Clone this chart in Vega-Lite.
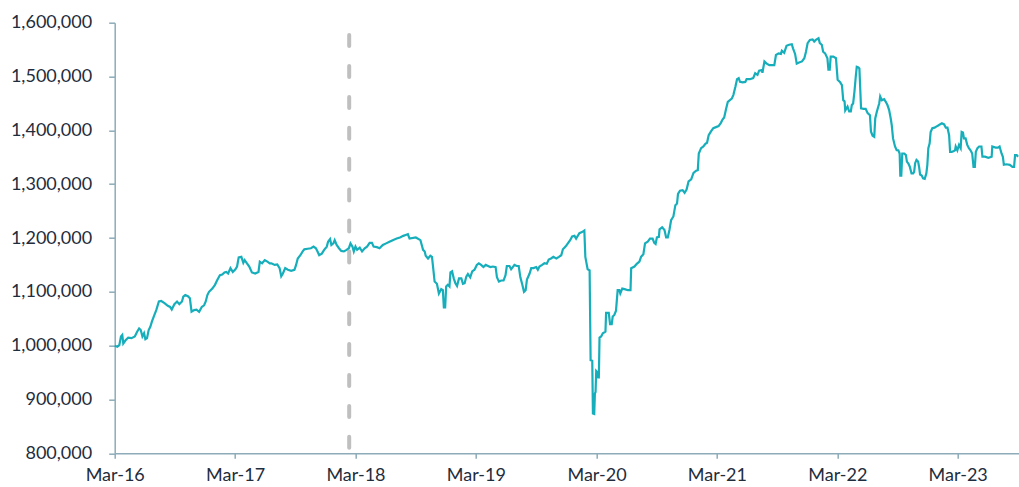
{
  "$schema": "https://vega.github.io/schema/vega-lite/v6.json",
  "width": 904,
  "height": 430.6,
  "autosize": {"type": "none"},
  "padding": {"left": 114.7, "top": 22.7, "right": 0.3, "bottom": 33.7},
  "background": "white",
  "config": {
    "view": {"stroke": null},
    "axis": {
      "labelFont": "Lato",
      "labelFontSize": 18,
      "labelColor": "#1f2d3d",
      "domainColor": "#8eabb9",
      "tickColor": "#8eabb9",
      "domainWidth": 1.5,
      "tickWidth": 1.5,
      "grid": false,
      "title": null
    }
  },
  "datasets": {
    "marker": [{"date": "2018-02-10", "lo": 800000, "hi": 1577000}],
    "series": [
      {"date":"2016-03-01","value":1000000},{"date":"2016-03-09","value":998000},{"date":"2016-03-15","value":1001000},{"date":"2016-03-20","value":1017000},{"date":"2016-03-24","value":1020000},{"date":"2016-03-27","value":1004000},{"date":"2016-04-03","value":1010000},{"date":"2016-04-11","value":1015000},{"date":"2016-04-21","value":1014000},{"date":"2016-05-01","value":1017000},{"date":"2016-05-08","value":1026000},{"date":"2016-05-14","value":1032000},{"date":"2016-05-19","value":1029000},{"date":"2016-05-24","value":1017000},{"date":"2016-05-29","value":1023000},{"date":"2016-06-02","value":1012000},{"date":"2016-06-07","value":1014000},{"date":"2016-06-12","value":1029000},{"date":"2016-06-17","value":1035000},{"date":"2016-06-22","value":1045000},{"date":"2016-06-28","value":1055000},{"date":"2016-07-05","value":1066000},{"date":"2016-07-13","value":1082000},{"date":"2016-07-20","value":1083000},{"date":"2016-07-30","value":1079000},{"date":"2016-08-09","value":1074000},{"date":"2016-08-16","value":1072000},{"date":"2016-08-21","value":1067000},{"date":"2016-08-29","value":1077000},{"date":"2016-09-06","value":1082000},{"date":"2016-09-13","value":1077000},{"date":"2016-09-21","value":1082000},{"date":"2016-09-25","value":1091000},{"date":"2016-10-01","value":1094000},{"date":"2016-10-09","value":1092000},{"date":"2016-10-15","value":1088000},{"date":"2016-10-20","value":1063000},{"date":"2016-10-28","value":1066000},{"date":"2016-11-04","value":1067000},{"date":"2016-11-12","value":1063000},{"date":"2016-11-20","value":1072000},{"date":"2016-11-27","value":1075000},{"date":"2016-12-02","value":1082000},{"date":"2016-12-07","value":1094000},{"date":"2016-12-12","value":1100000},{"date":"2016-12-22","value":1106000},{"date":"2016-12-30","value":1113000},
      {"date":"2017-01-06","value":1122000},{"date":"2017-01-14","value":1131000},{"date":"2017-01-21","value":1132000},{"date":"2017-01-28","value":1136000},{"date":"2017-02-02","value":1137000},{"date":"2017-02-08","value":1134000},{"date":"2017-02-15","value":1144000},{"date":"2017-02-22","value":1137000},{"date":"2017-03-02","value":1142000},{"date":"2017-03-07","value":1147000},{"date":"2017-03-12","value":1164000},{"date":"2017-03-20","value":1165000},{"date":"2017-03-26","value":1154000},{"date":"2017-03-30","value":1159000},{"date":"2017-04-06","value":1153000},{"date":"2017-04-13","value":1147000},{"date":"2017-04-21","value":1136000},{"date":"2017-05-01","value":1134000},{"date":"2017-05-11","value":1137000},{"date":"2017-05-15","value":1156000},{"date":"2017-05-22","value":1153000},{"date":"2017-05-30","value":1159000},{"date":"2017-06-07","value":1156000},{"date":"2017-06-14","value":1153000},{"date":"2017-06-19","value":1153000},{"date":"2017-06-29","value":1150000},{"date":"2017-07-07","value":1151000},{"date":"2017-07-14","value":1144000},{"date":"2017-07-19","value":1129000},{"date":"2017-07-24","value":1134000},{"date":"2017-07-31","value":1144000},{"date":"2017-08-08","value":1141000},{"date":"2017-08-18","value":1139000},{"date":"2017-08-28","value":1141000},{"date":"2017-09-02","value":1150000},{"date":"2017-09-07","value":1162000},{"date":"2017-09-15","value":1168000},{"date":"2017-09-22","value":1175000},{"date":"2017-09-27","value":1179000},{"date":"2017-10-07","value":1180000},{"date":"2017-10-17","value":1181000},{"date":"2017-10-25","value":1184000},{"date":"2017-11-01","value":1181000},{"date":"2017-11-06","value":1175000},{"date":"2017-11-11","value":1168000},{"date":"2017-11-19","value":1171000},{"date":"2017-11-26","value":1178000},{"date":"2017-12-04","value":1184000},{"date":"2017-12-08","value":1193000},{"date":"2017-12-14","value":1198000},{"date":"2017-12-18","value":1187000},{"date":"2017-12-24","value":1190000},{"date":"2017-12-28","value":1196000},
      {"date":"2018-01-03","value":1187000},{"date":"2018-01-10","value":1181000},{"date":"2018-01-17","value":1176000},{"date":"2018-01-25","value":1175000},{"date":"2018-02-02","value":1178000},{"date":"2018-02-09","value":1181000},{"date":"2018-02-14","value":1190000},{"date":"2018-02-20","value":1184000},{"date":"2018-02-24","value":1175000},{"date":"2018-03-01","value":1184000},{"date":"2018-03-06","value":1178000},{"date":"2018-03-14","value":1182000},{"date":"2018-03-21","value":1175000},{"date":"2018-03-29","value":1181000},{"date":"2018-04-05","value":1184000},{"date":"2018-04-13","value":1191000},{"date":"2018-04-20","value":1191000},{"date":"2018-04-25","value":1184000},{"date":"2018-05-05","value":1183000},{"date":"2018-05-13","value":1181000},{"date":"2018-05-23","value":1187000},{"date":"2018-06-02","value":1190000},{"date":"2018-06-12","value":1193000},{"date":"2018-06-22","value":1196000},{"date":"2018-07-04","value":1199000},{"date":"2018-07-14","value":1201000},{"date":"2018-07-24","value":1204000},{"date":"2018-08-02","value":1206000},{"date":"2018-08-07","value":1207000},{"date":"2018-08-12","value":1199000},{"date":"2018-08-31","value":1201000},{"date":"2018-09-14","value":1196000},{"date":"2018-09-18","value":1187000},{"date":"2018-09-22","value":1178000},{"date":"2018-09-27","value":1175000},{"date":"2018-09-30","value":1167000},{"date":"2018-10-07","value":1162000},{"date":"2018-10-14","value":1167000},{"date":"2018-10-19","value":1165000},{"date":"2018-10-22","value":1148000},{"date":"2018-10-27","value":1119000},{"date":"2018-11-03","value":1115000},{"date":"2018-11-09","value":1097000},{"date":"2018-11-16","value":1105000},{"date":"2018-11-21","value":1103000},{"date":"2018-11-24","value":1071000},{"date":"2018-11-28","value":1071000},{"date":"2018-12-01","value":1110000},{"date":"2018-12-06","value":1113000},{"date":"2018-12-11","value":1110000},{"date":"2018-12-14","value":1136000},{"date":"2018-12-19","value":1138000},{"date":"2018-12-24","value":1125000},{"date":"2018-12-29","value":1116000},
      {"date":"2019-01-03","value":1111000},{"date":"2019-01-09","value":1125000},{"date":"2019-01-16","value":1125000},{"date":"2019-01-21","value":1115000},{"date":"2019-01-26","value":1116000},{"date":"2019-01-31","value":1128000},{"date":"2019-02-05","value":1133000},{"date":"2019-02-12","value":1127000},{"date":"2019-02-18","value":1138000},{"date":"2019-02-25","value":1141000},{"date":"2019-03-04","value":1150000},{"date":"2019-03-10","value":1153000},{"date":"2019-03-17","value":1150000},{"date":"2019-03-24","value":1146000},{"date":"2019-03-31","value":1150000},{"date":"2019-04-07","value":1148000},{"date":"2019-04-14","value":1146000},{"date":"2019-04-22","value":1147000},{"date":"2019-04-30","value":1146000},{"date":"2019-05-04","value":1127000},{"date":"2019-05-10","value":1119000},{"date":"2019-05-17","value":1121000},{"date":"2019-05-24","value":1121000},{"date":"2019-05-30","value":1131000},{"date":"2019-06-03","value":1148000},{"date":"2019-06-11","value":1148000},{"date":"2019-06-16","value":1142000},{"date":"2019-06-21","value":1146000},{"date":"2019-06-26","value":1150000},{"date":"2019-07-03","value":1148000},{"date":"2019-07-09","value":1148000},{"date":"2019-07-14","value":1127000},{"date":"2019-07-20","value":1113000},{"date":"2019-07-25","value":1100000},{"date":"2019-07-30","value":1103000},{"date":"2019-08-03","value":1123000},{"date":"2019-08-11","value":1134000},{"date":"2019-08-16","value":1144000},{"date":"2019-08-23","value":1144000},{"date":"2019-08-31","value":1146000},{"date":"2019-09-05","value":1141000},{"date":"2019-09-10","value":1147000},{"date":"2019-09-18","value":1150000},{"date":"2019-09-25","value":1153000},{"date":"2019-10-02","value":1152000},{"date":"2019-10-08","value":1160000},{"date":"2019-10-15","value":1162000},{"date":"2019-10-22","value":1165000},{"date":"2019-10-31","value":1162000},{"date":"2019-11-08","value":1165000},{"date":"2019-11-15","value":1168000},{"date":"2019-11-20","value":1179000},{"date":"2019-11-28","value":1184000},{"date":"2019-12-05","value":1190000},{"date":"2019-12-12","value":1196000},{"date":"2019-12-18","value":1203000},{"date":"2019-12-25","value":1204000},{"date":"2019-12-30","value":1199000},
      {"date":"2020-01-04","value":1204000},{"date":"2020-01-09","value":1209000},{"date":"2020-01-17","value":1211000},{"date":"2020-01-24","value":1214000},{"date":"2020-01-27","value":1165000},{"date":"2020-02-03","value":1142000},{"date":"2020-02-09","value":1140000},{"date":"2020-02-12","value":973000},{"date":"2020-02-17","value":972000},{"date":"2020-02-19","value":874000},{"date":"2020-02-23","value":873000},{"date":"2020-02-25","value":911000},{"date":"2020-02-27","value":914000},{"date":"2020-02-29","value":953000},{"date":"2020-03-03","value":951000},{"date":"2020-03-06","value":941000},{"date":"2020-03-08","value":941000},{"date":"2020-03-10","value":1015000},{"date":"2020-03-15","value":1017000},{"date":"2020-03-20","value":1023000},{"date":"2020-03-28","value":1026000},{"date":"2020-03-30","value":1061000},{"date":"2020-04-07","value":1061000},{"date":"2020-04-11","value":1040000},{"date":"2020-04-16","value":1040000},{"date":"2020-04-19","value":1054000},{"date":"2020-04-24","value":1057000},{"date":"2020-04-29","value":1065000},{"date":"2020-05-04","value":1103000},{"date":"2020-05-09","value":1103000},{"date":"2020-05-12","value":1097000},{"date":"2020-05-18","value":1106000},{"date":"2020-05-25","value":1105000},{"date":"2020-06-04","value":1103000},{"date":"2020-06-12","value":1103000},{"date":"2020-06-14","value":1144000},{"date":"2020-06-24","value":1147000},{"date":"2020-07-01","value":1152000},{"date":"2020-07-09","value":1156000},{"date":"2020-07-14","value":1165000},{"date":"2020-07-21","value":1170000},{"date":"2020-07-26","value":1190000},{"date":"2020-08-03","value":1193000},{"date":"2020-08-10","value":1199000},{"date":"2020-08-18","value":1199000},{"date":"2020-08-23","value":1191000},{"date":"2020-08-27","value":1189000},{"date":"2020-08-31","value":1201000},{"date":"2020-09-06","value":1202000},{"date":"2020-09-08","value":1216000},{"date":"2020-09-16","value":1220000},{"date":"2020-09-23","value":1215000},{"date":"2020-09-28","value":1201000},{"date":"2020-10-03","value":1201000},{"date":"2020-10-08","value":1215000},{"date":"2020-10-13","value":1233000},{"date":"2020-10-20","value":1240000},{"date":"2020-10-26","value":1261000},{"date":"2020-10-31","value":1264000},{"date":"2020-11-03","value":1282000},{"date":"2020-11-09","value":1288000},{"date":"2020-11-17","value":1289000},{"date":"2020-11-23","value":1284000},{"date":"2020-11-29","value":1290000},{"date":"2020-12-05","value":1305000},{"date":"2020-12-13","value":1309000},{"date":"2020-12-20","value":1321000},{"date":"2020-12-28","value":1325000},
      {"date":"2021-01-02","value":1326000},{"date":"2021-01-05","value":1357000},{"date":"2021-01-12","value":1367000},{"date":"2021-01-19","value":1370000},{"date":"2021-01-25","value":1375000},{"date":"2021-01-30","value":1377000},{"date":"2021-02-04","value":1391000},{"date":"2021-02-11","value":1398000},{"date":"2021-02-18","value":1404000},{"date":"2021-02-26","value":1406000},{"date":"2021-03-06","value":1408000},{"date":"2021-03-13","value":1414000},{"date":"2021-03-18","value":1420000},{"date":"2021-03-23","value":1424000},{"date":"2021-03-28","value":1438000},{"date":"2021-04-03","value":1453000},{"date":"2021-04-15","value":1459000},{"date":"2021-04-20","value":1466000},{"date":"2021-04-26","value":1481000},{"date":"2021-05-01","value":1495000},{"date":"2021-05-06","value":1497000},{"date":"2021-05-10","value":1490000},{"date":"2021-05-18","value":1489000},{"date":"2021-05-26","value":1490000},{"date":"2021-05-30","value":1495000},{"date":"2021-06-09","value":1495000},{"date":"2021-06-19","value":1497000},{"date":"2021-06-25","value":1506000},{"date":"2021-07-02","value":1503000},{"date":"2021-07-07","value":1511000},{"date":"2021-07-15","value":1512000},{"date":"2021-07-17","value":1507000},{"date":"2021-07-23","value":1528000},{"date":"2021-07-30","value":1524000},{"date":"2021-08-07","value":1521000},{"date":"2021-08-22","value":1521000},{"date":"2021-08-27","value":1540000},{"date":"2021-09-04","value":1543000},{"date":"2021-09-11","value":1542000},{"date":"2021-09-14","value":1548000},{"date":"2021-09-21","value":1544000},{"date":"2021-09-28","value":1557000},{"date":"2021-10-06","value":1559000},{"date":"2021-10-14","value":1560000},{"date":"2021-10-18","value":1552000},{"date":"2021-10-24","value":1542000},{"date":"2021-10-29","value":1524000},{"date":"2021-11-05","value":1526000},{"date":"2021-11-14","value":1528000},{"date":"2021-11-21","value":1534000},{"date":"2021-11-26","value":1546000},{"date":"2021-12-01","value":1562000},{"date":"2021-12-08","value":1568000},{"date":"2021-12-16","value":1569000},{"date":"2021-12-21","value":1565000},{"date":"2021-12-26","value":1568000},
      {"date":"2022-01-03","value":1571000},{"date":"2022-01-07","value":1562000},{"date":"2022-01-13","value":1559000},{"date":"2022-01-17","value":1546000},{"date":"2022-01-23","value":1543000},{"date":"2022-01-30","value":1534000},{"date":"2022-02-02","value":1513000},{"date":"2022-02-06","value":1513000},{"date":"2022-02-09","value":1537000},{"date":"2022-02-17","value":1537000},{"date":"2022-02-25","value":1534000},{"date":"2022-03-02","value":1494000},{"date":"2022-03-09","value":1490000},{"date":"2022-03-15","value":1484000},{"date":"2022-03-19","value":1456000},{"date":"2022-03-23","value":1454000},{"date":"2022-03-25","value":1437000},{"date":"2022-04-01","value":1444000},{"date":"2022-04-06","value":1435000},{"date":"2022-04-11","value":1435000},{"date":"2022-04-14","value":1447000},{"date":"2022-04-18","value":1450000},{"date":"2022-04-22","value":1472000},{"date":"2022-04-26","value":1500000},{"date":"2022-04-29","value":1518000},{"date":"2022-05-04","value":1517000},{"date":"2022-05-07","value":1515000},{"date":"2022-05-12","value":1441000},{"date":"2022-05-20","value":1440000},{"date":"2022-05-26","value":1440000},{"date":"2022-06-01","value":1432000},{"date":"2022-06-08","value":1428000},{"date":"2022-06-11","value":1398000},{"date":"2022-06-16","value":1390000},{"date":"2022-06-21","value":1388000},{"date":"2022-06-24","value":1422000},{"date":"2022-06-29","value":1435000},{"date":"2022-07-06","value":1450000},{"date":"2022-07-09","value":1463000},{"date":"2022-07-14","value":1456000},{"date":"2022-07-21","value":1458000},{"date":"2022-07-26","value":1453000},{"date":"2022-07-31","value":1447000},{"date":"2022-08-05","value":1438000},{"date":"2022-08-10","value":1422000},{"date":"2022-08-13","value":1410000},{"date":"2022-08-17","value":1385000},{"date":"2022-08-23","value":1370000},{"date":"2022-08-28","value":1363000},{"date":"2022-09-02","value":1363000},{"date":"2022-09-06","value":1357000},{"date":"2022-09-08","value":1316000},{"date":"2022-09-11","value":1316000},{"date":"2022-09-14","value":1357000},{"date":"2022-09-20","value":1357000},{"date":"2022-09-25","value":1354000},{"date":"2022-09-28","value":1342000},{"date":"2022-10-03","value":1338000},{"date":"2022-10-07","value":1332000},{"date":"2022-10-12","value":1320000},{"date":"2022-10-17","value":1320000},{"date":"2022-10-20","value":1323000},{"date":"2022-10-23","value":1339000},{"date":"2022-10-27","value":1345000},{"date":"2022-11-01","value":1342000},{"date":"2022-11-04","value":1332000},{"date":"2022-11-07","value":1318000},{"date":"2022-11-12","value":1316000},{"date":"2022-11-16","value":1311000},{"date":"2022-11-21","value":1310000},{"date":"2022-11-26","value":1320000},{"date":"2022-11-29","value":1336000},{"date":"2022-12-02","value":1367000},{"date":"2022-12-06","value":1376000},{"date":"2022-12-09","value":1397000},{"date":"2022-12-14","value":1404000},{"date":"2022-12-21","value":1405000},{"date":"2022-12-26","value":1407000},
      {"date":"2023-01-01","value":1409000},{"date":"2023-01-06","value":1411000},{"date":"2023-01-12","value":1413000},{"date":"2023-01-19","value":1411000},{"date":"2023-01-24","value":1405000},{"date":"2023-01-29","value":1405000},{"date":"2023-02-03","value":1391000},{"date":"2023-02-06","value":1360000},{"date":"2023-02-11","value":1360000},{"date":"2023-02-16","value":1361000},{"date":"2023-02-21","value":1363000},{"date":"2023-02-23","value":1370000},{"date":"2023-02-28","value":1363000},{"date":"2023-03-05","value":1373000},{"date":"2023-03-10","value":1367000},{"date":"2023-03-13","value":1397000},{"date":"2023-03-17","value":1396000},{"date":"2023-03-20","value":1385000},{"date":"2023-03-25","value":1385000},{"date":"2023-03-30","value":1373000},{"date":"2023-04-04","value":1367000},{"date":"2023-04-09","value":1363000},{"date":"2023-04-14","value":1357000},{"date":"2023-04-18","value":1332000},{"date":"2023-04-22","value":1332000},{"date":"2023-04-25","value":1360000},{"date":"2023-04-30","value":1367000},{"date":"2023-05-05","value":1370000},{"date":"2023-05-12","value":1370000},{"date":"2023-05-15","value":1351000},{"date":"2023-05-23","value":1351000},{"date":"2023-06-02","value":1349000},{"date":"2023-06-12","value":1351000},{"date":"2023-06-14","value":1370000},{"date":"2023-06-24","value":1368000},{"date":"2023-07-01","value":1368000},{"date":"2023-07-06","value":1370000},{"date":"2023-07-12","value":1357000},{"date":"2023-07-16","value":1351000},{"date":"2023-07-19","value":1336000},{"date":"2023-07-27","value":1337000},{"date":"2023-08-06","value":1336000},{"date":"2023-08-14","value":1332000},{"date":"2023-08-19","value":1332000},{"date":"2023-08-22","value":1354000},{"date":"2023-08-27","value":1354000},{"date":"2023-08-31","value":1351000}
    ]
  },
  "encoding": {
    "x": {
      "field": "date",
      "type": "temporal",
      "scale": {
        "type": "utc",
        "domain": [
          {"year": 2016, "month": 3, "date": 1, "utc": true},
          {"year": 2023, "month": 9, "date": 2, "utc": true}
        ]
      },
      "axis": {
        "values": [
          {"year": 2016, "month": 3, "date": 1, "utc": true},
          {"year": 2017, "month": 3, "date": 1, "utc": true},
          {"year": 2018, "month": 3, "date": 1, "utc": true},
          {"year": 2019, "month": 3, "date": 1, "utc": true},
          {"year": 2020, "month": 3, "date": 1, "utc": true},
          {"year": 2021, "month": 3, "date": 1, "utc": true},
          {"year": 2022, "month": 3, "date": 1, "utc": true},
          {"year": 2023, "month": 3, "date": 1, "utc": true}
        ],
        "format": "%b-%y",
        "tickSize": 5,
        "labelPadding": 8,
        "labelFlush": false,
        "labelOverlap": false
      }
    }
  },
  "layer": [
    {
      "data": {"name": "marker"},
      "mark": {"type": "rule", "color": "#bfbfbf", "strokeWidth": 4, "strokeDash": [11, 19.9], "strokeCap": "round"},
      "encoding": {
        "y": {
          "field": "hi",
          "type": "quantitative",
          "scale": {"domain": [800000, 1600000], "nice": false, "zero": false},
          "axis": {"values": [800000, 900000, 1000000, 1100000, 1200000, 1300000, 1400000, 1500000, 1600000], "format": ",d", "tickSize": 6, "labelPadding": 17}
        },
        "y2": {"field": "lo"}
      }
    },
    {
      "data": {"name": "series"},
      "mark": {"type": "line", "color": "#17aebb", "strokeWidth": 2.2, "interpolate": "linear"},
      "encoding": {
        "y": {
          "field": "value",
          "type": "quantitative",
          "scale": {"domain": [800000, 1600000], "nice": false, "zero": false},
          "axis": {"values": [800000, 900000, 1000000, 1100000, 1200000, 1300000, 1400000, 1500000, 1600000], "format": ",d", "tickSize": 6, "labelPadding": 17}
        }
      }
    }
  ]
}
